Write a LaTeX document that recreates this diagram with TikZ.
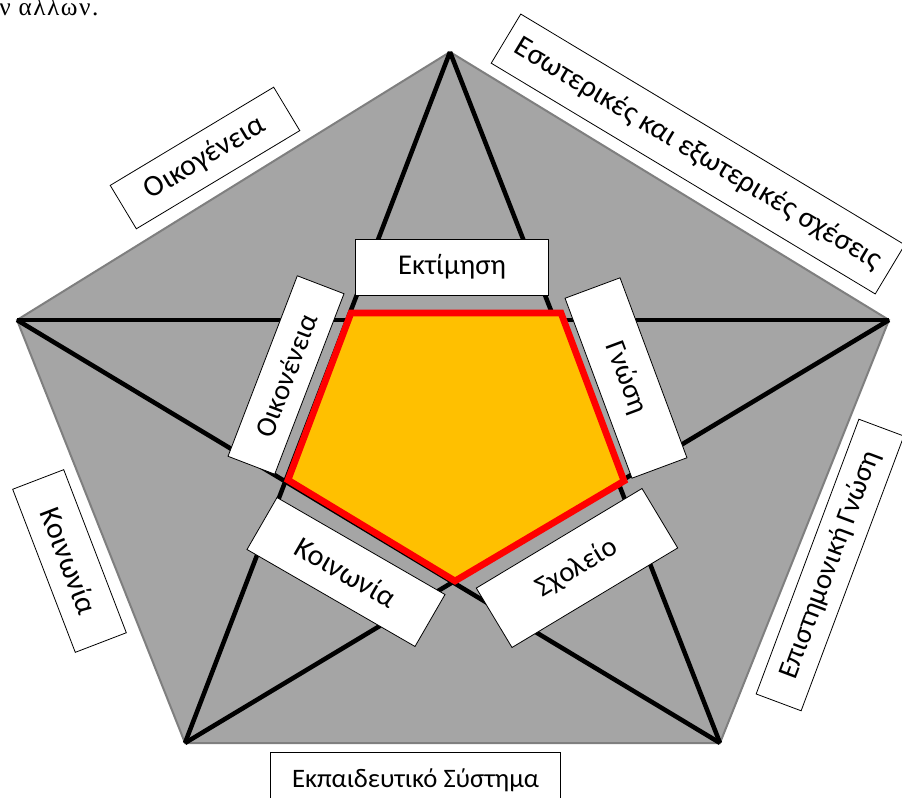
\documentclass[tikz,border=0pt]{standalone}
\usepackage{fontspec}
\setmainfont{Carlito}
\newfontfamily\pagefont[LetterSpace=6]{Liberation Serif}
\usepackage{xcolor}
\definecolor{pentgray}{HTML}{A5A5A5}
\definecolor{edgegray}{HTML}{7F7F7F}
\definecolor{coreorange}{HTML}{FFC000}

\begin{document}
\begin{tikzpicture}[x=0.75pt,y=-0.75pt,
    tagbox/.style={draw,fill=white,line width=0.6pt,inner sep=0pt,
      font=\fontsize{21.5}{25}\selectfont},
    bigtag/.style={font=\fontsize{22.5}{26}\selectfont},
    starline/.style={line width=3.4pt}]
                \useasboundingbox (0,0) rectangle (902,798);

                \node[font=\pagefont\fontsize{19}{21}\selectfont,anchor=base west,inner sep=0pt] (fragment) at (-1,16) {ν αλλων.};

                \coordinate (top) at (450,52);
                \coordinate (right) at (889,320);
                \coordinate (bright) at (720,743);
                \coordinate (bleft) at (185,743);
                \coordinate (left) at (17,320);

                \filldraw[fill=pentgray,draw=edgegray,line width=1.5pt] (top) -- (right) -- (bright) -- (bleft) -- (left) -- cycle;

                \draw[starline] (top) -- (bleft);
                \draw[starline] (top) -- (bright);
                \draw[starline] (left) -- (right);
                \draw[starline] (left) -- (bright);
                \draw[starline] (right) -- (bleft);

                \filldraw[fill=coreorange,draw=red,line width=5pt] (351,313) -- (561,313) -- (624,481) -- (455,581) -- (288,480) -- cycle;

                \node[tagbox,minimum width=145pt,minimum height=42pt] (ektimisi) at (452,267) {Εκτίμηση};
                \node[tagbox,rotate=69,minimum width=145pt,minimum height=37.5pt] (oikoninner) at (286,375) {Οικονένεια};
                \node[tagbox,rotate=-69.6,minimum width=144pt,minimum height=44pt] (gnosi) at (626,378) {Γνώση};
                \node[tagbox,bigtag,rotate=-30,minimum width=145.5pt,minimum height=45pt] (koininner) at (346,572) {Κοινωνία};
                \node[tagbox,rotate=31,minimum width=145pt,minimum height=52pt] (sxoleio) at (577,568) {Σχολείο};

                \node[tagbox,bigtag,rotate=31,minimum width=143pt,minimum height=38pt] (oikogeneia) at (205,158) {Οικογένεια};
                \node[tagbox,bigtag,rotate=-31,minimum width=336pt,minimum height=43pt] (sxeseis) at (698,154) {Εσωτερικές και εξωτερικές σχέσεις};
                \node[tagbox,bigtag,rotate=-69,minimum width=131pt,minimum height=41pt] (koinonia) at (69.5,561) {Κοινωνία};
                \node[tagbox,rotate=69.5,minimum width=220pt,minimum height=36pt] (episteme) at (830,565) {Επιστημονική Γνώση};
                \node[tagbox,font=\fontsize{20}{24}\selectfont,minimum width=218pt,minimum height=42pt] (ekpaideysi) at (415.5,780) {Εκπαιδευτικό Σύστημα};
            \end{tikzpicture}
\end{document}
